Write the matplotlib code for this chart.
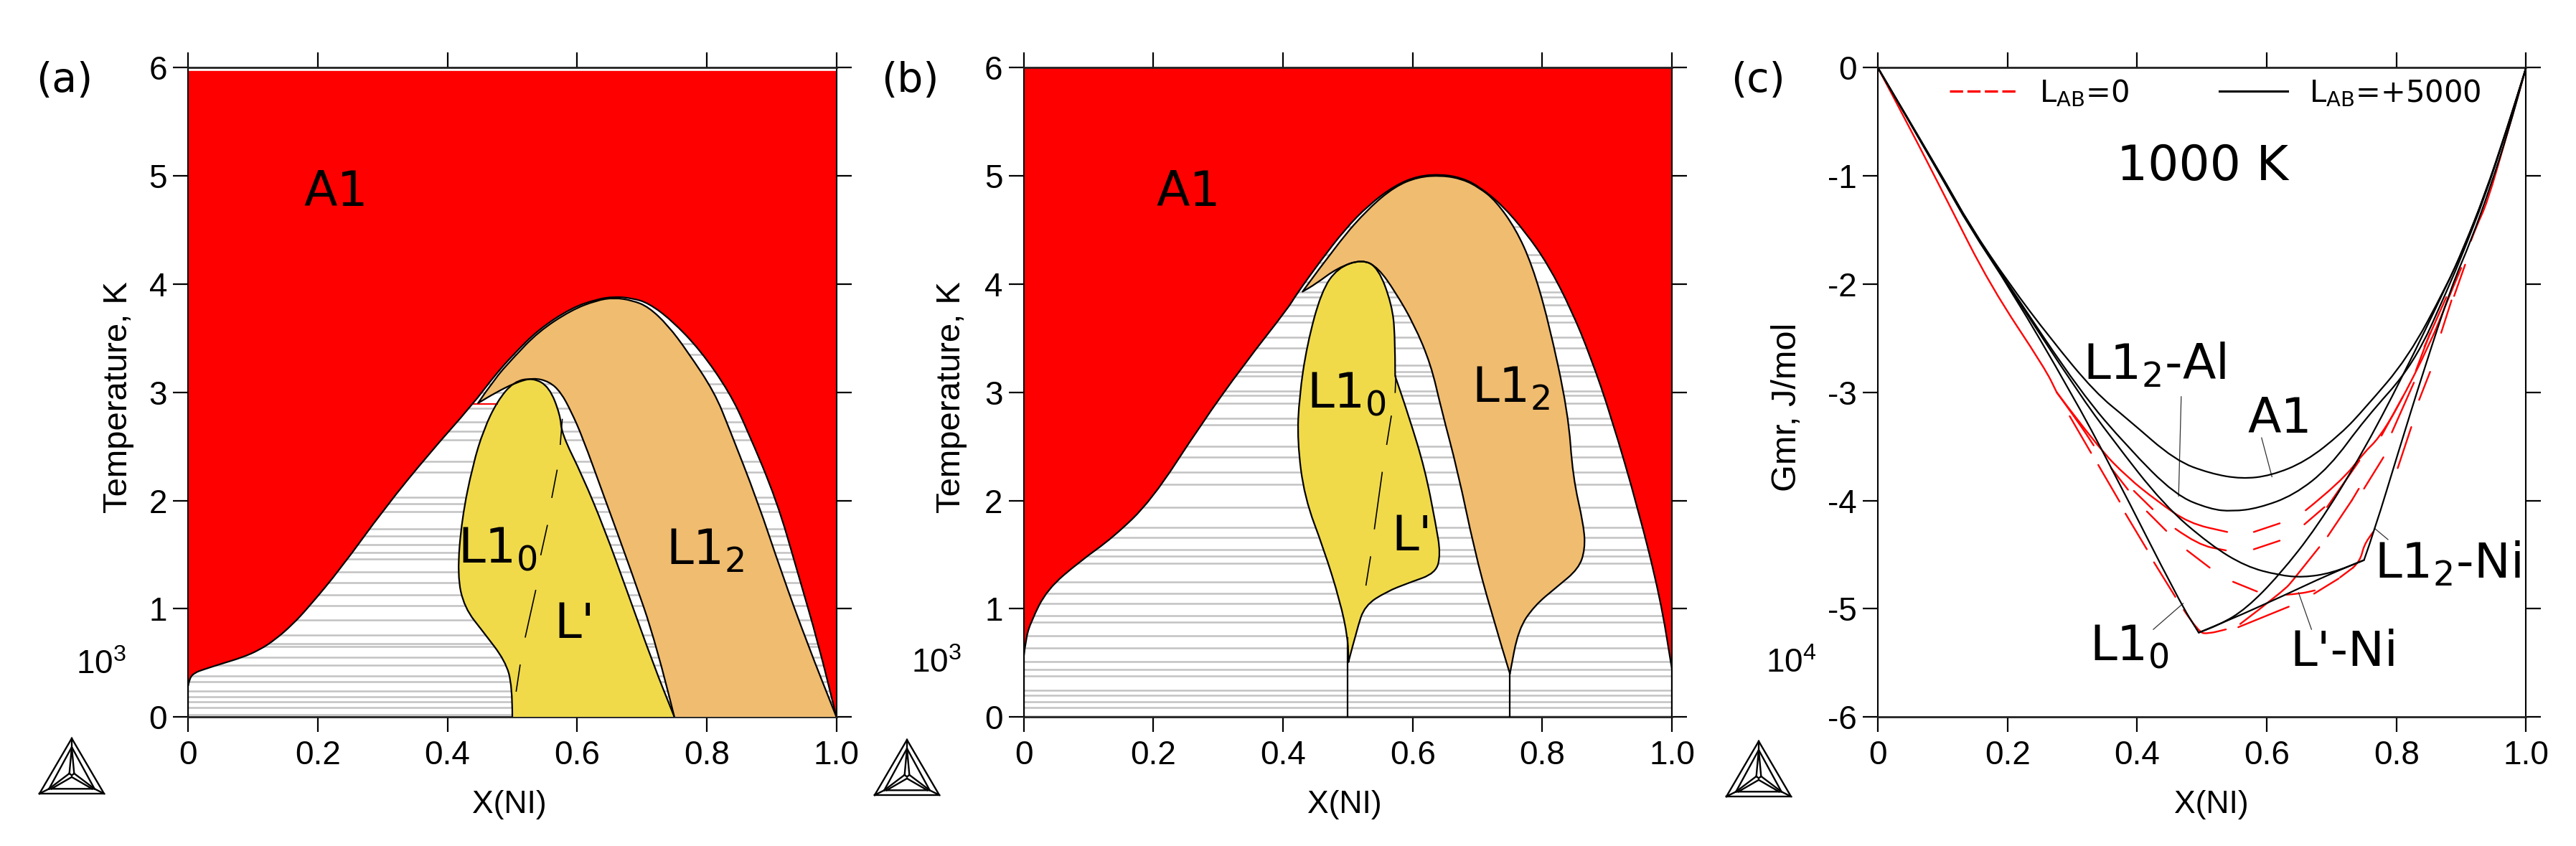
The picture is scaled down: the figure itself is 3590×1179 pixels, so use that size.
#!/usr/bin/env python3
# -*- coding: utf-8 -*-
import numpy as np
import matplotlib
matplotlib.use('Agg')
import matplotlib.pyplot as plt
from matplotlib.lines import Line2D
from matplotlib.patches import PathPatch
from matplotlib.path import Path

plt.rcParams['font.family'] = ['DejaVu Sans']
plt.rcParams['mathtext.default'] = 'regular'

nan = np.nan
W, H = 3590, 1179
TICK = 'Liberation Sans'
RED = '#ff0000'
ORANGE = '#f0bc6f'
YELLOW = '#f0da4a'
GRAY = '#c2c2c2'

x_ticks = [0, 0.2, 0.4, 0.6, 0.8, 1.0]
x_tick_labels = ['0', '0.2', '0.4', '0.6', '0.8', '1.0']
t_ticks = [0, 1, 2, 3, 4, 5, 6]
t_tick_labels = ['0', '1', '2', '3', '4', '5', '6']
g_ticks = [0, -1, -2, -3, -4, -5, -6]
g_tick_labels = ['0', '-1', '-2', '-3', '-4', '-5', '-6']

# panel (a)
a_a1_x = [0, .002, .01, .024, .05, .083, .11, .134, .16, .185, .235, .303, .371, .439, .472, .50, .54, .591, .63, .657, .685, .71, .745, .79, .835, .862, .908, .94, .972, 1.0]
a_a1_y = [.29, .36, .41, .44, .49, .55, .62, .715, .85, 1.01, 1.37, 1.93, 2.43, 2.89, 3.15, 3.34, 3.58, 3.78, 3.86, 3.885, 3.87, 3.825, 3.67, 3.39, 3.0, 2.66, 2.0, 1.34, .68, 0]
a_or_x = [.75, .722, .684, .642, .608, .591, .575, .557, .532, .505, .475, .447, .472, .50, .54, .591, .63, .657, .685, .71, .74, .77, .812, .835, .878, .915, .955, 1.0]
a_or_y = [0, .68, 1.34, 2.03, 2.59, 2.82, 3.0, 3.1, 3.135, 3.09, 3.0, 2.9, 3.12, 3.31, 3.56, 3.76, 3.85, 3.875, 3.85, 3.79, 3.62, 3.38, 3.0, 2.66, 2.0, 1.34, .68, 0]
a_ye_x = [.5, .5, .489, .456, .426, .415, .422, .439, .456, .477, .502, .532, .557, .574, .576, .608, .642, .676, .718, .75]
a_ye_y = [0, .29, .52, .78, 1.01, 1.31, 1.83, 2.33, 2.66, 2.92, 3.10, 3.135, 3.05, 2.79, 2.62, 2.23, 1.74, 1.18, .48, 0]
a_dash_x = [.506, .512, nan, .52, .536, nan, .544, .554, nan, .561, .569, nan, .574, .577]
a_dash_y = [.24, .48, nan, .74, 1.17, nan, 1.50, 1.77, nan, 2.03, 2.28, nan, 2.52, 2.75]
a_red_tie_x = [.44, .477]
a_red_tie_y = [2.89, 2.89]
a_ties = [.02, .09, .14, .19, .24, .33, .38, .48, .55, .65, .68, .76, .9, 1.03, 1.13, 1.24, 1.34, 1.46, 1.52, 1.59, 1.67, 1.74, 1.9, 1.97, 2.03, 2.26, 2.36, 2.56, 2.64, 2.73, 2.85, 3.0, 3.08, 3.2, 3.35, 3.45]

# panel (b)
b_a1_x = [0, .003, .011, .036, .087, .138, .197, .273, .34, .408, .42, .456, .496, .532, .572, .608, .645, .677, .703, .738, .774, .809, .845, .875, .906, .948, .982, 1.0]
b_a1_y = [.55, .72, .88, 1.18, 1.44, 1.66, 2.0, 2.7, 3.26, 3.78, 3.90, 4.2, 4.51, 4.73, 4.91, 5.0, 5.015, 4.98, 4.90, 4.73, 4.48, 4.18, 3.76, 3.32, 2.78, 1.92, 1.1, .44]
b_or_x = [.75, .72, .695, .67, .644, .628, .602, .573, .547, .522, .484, .45, .43, .486, .532, .572, .608, .645, .677, .703, .728, .759, .784, .809, .84, .847, .864, .866, .856, .822, .788, .763, .75]
b_or_y = [.40, .99, 1.55, 2.26, 2.85, 3.26, 3.63, 3.93, 4.15, 4.23, 4.15, 4.0, 3.93, 4.39, 4.70, 4.90, 4.99, 5.005, 4.97, 4.89, 4.77, 4.51, 4.18, 3.67, 2.81, 2.22, 1.77, 1.55, 1.37, 1.2, 1.03, .81, .40]
b_ye_x = [.501, .514, .526, .56, .594, .636, .643, .636, .619, .594, .573, .573, .568, .547, .522, .484, .459, .437, .425, .422, .433, .463, .488, .5, .501]
b_ye_y = [.51, .81, 1.03, 1.16, 1.24, 1.33, 1.51, 1.77, 2.29, 2.78, 3.15, 3.52, 3.81, 4.15, 4.23, 4.15, 3.93, 3.44, 2.96, 2.55, 2.03, 1.55, 1.07, .73, .51]
b_dash_x = [.528, .535, nan, .541, .553, nan, .56, .567, nan, .573, .574]
b_dash_y = [1.22, 1.48, nan, 1.74, 2.26, nan, 2.52, 2.78, nan, 3.0, 3.15]
b_wall_x = [.5, .5, nan, .75, .75, nan, 0, 0, nan, 1.0, 1.0]
b_wall_y = [0, .73, nan, 0, .40, nan, 0, .55, nan, 0, .44]
b_ties = [.01, .09, .14, .2, .25, .38, .44, .51, .64, .75, .88, .94, 1.05, 1.14, 1.25, 1.42, 1.49, 1.55, 1.66, 1.75, 1.94, 2.15, 2.26, 2.4, 2.5, 2.7, 2.76, 2.9, 2.97, 3.01, 3.15, 3.19, 3.25, 3.41, 3.51, 3.65, 3.71, 3.81, 3.88, 3.93, 4.02, 4.2, 4.27, 4.53]

# panel (c), black
c_a1_x = [0, .099, .141, .203, .266, .335, .386, .459, .513, .561, .606, .66, .715, .751, .818, .877, .902, .936, .969, 1]
c_a1_y = [0, -1.0, -1.45, -2.0, -2.5, -3.0, -3.25, -3.63, -3.75, -3.80, -3.77, -3.64, -3.38, -3.15, -2.68, -2.02, -1.69, -1.18, -.59, 0]
c_l12al_x = [0, .099, .141, .203, .313, .386, .459, .513, .547, .587, .642, .697, .751, .827, .881, .902, .936, .969, 1]
c_l12al_y = [0, -1.0, -1.45, -2.02, -3.0, -3.51, -3.95, -4.08, -4.10, -4.07, -3.95, -3.69, -3.25, -2.74, -2.02, -1.72, -1.2, -.6, 0]
c_l12ni_x = [0, .099, .141, .203, .309, .36, .441, .513, .568, .619, .656, .70, .75, .767, .802, .843, .885, .915, .945, .972, 1]
c_l12ni_y = [0, -1.01, -1.46, -2.03, -3.0, -3.42, -4.04, -4.41, -4.61, -4.69, -4.71, -4.67, -4.55, -4.26, -3.57, -2.78, -2.02, -1.6, -1.1, -.6, 0]
c_l10_x = [0, .099, .141, .205, .298, .36, .466, .495, .527, .568, .619, .678, .744, .81, .877, .905, .938, .97, 1]
c_l10_y = [0, -1.02, -1.47, -2.05, -3.0, -3.69, -4.94, -5.22, -5.15, -5.0, -4.69, -4.24, -3.6, -2.85, -2.02, -1.65, -1.15, -.58, 0]
c_lni_x = [.495, .54, .629, .693, .75]
c_lni_y = [-5.22, -5.11, -4.87, -4.69, -4.55]

# panel (c), red, gaps as nan
r_trunk_x = [0, .048, .107, .174, .258, .276, nan, .296, .329, nan, .34, .373, nan, .382, .415, nan, .426, .459, nan, .472, .495, .51, .537, nan, .556, .634]
r_trunk_y = [0, -.54, -1.23, -2.02, -2.78, -3.0, nan, -3.22, -3.56, nan, -3.67, -4.01, nan, -4.12, -4.45, nan, -4.57, -4.89, nan, -5.01, -5.22, -5.23, -5.19, nan, -5.17, -4.98]
r_l12_x = [.276, .31, .333, nan, .36, .386, nan, .415, .445, nan, .477, .512, nan, .548, .585, nan, .63, .652, .674, nan, .673, .711, nan, .713, .733, nan, .733, .744, .75, .764, nan, .802, .823, nan, .835, .852, nan, .869, .885, nan, .889, .906, nan, .915, .923, .94, .969, 1]
r_l12_y = [-3.0, -3.28, -3.49, nan, -3.70, -3.9, nan, -4.1, -4.28, nan, -4.46, -4.62, nan, -4.75, -4.84, nan, -4.87, -4.86, -4.83, nan, -4.86, -4.72, nan, -4.71, -4.62, nan, -4.62, -4.56, -4.41, -4.29, nan, -3.7, -3.32, nan, -3.07, -2.81, nan, -2.45, -2.15, nan, -2.11, -1.82, nan, -1.6, -1.47, -1.25, -.65, 0]
r_mid_x = [.395, .424, nan, .459, .494, .537, nan, .58, .62, nan, .658, .689, nan, .693, .743, nan, .777, .81, nan, .83, .852]
r_mid_y = [-3.91, -4.08, nan, -4.26, -4.41, -4.46, nan, -4.45, -4.37, nan, -4.22, -4.06, nan, -4.06, -3.63, nan, -3.4, -3.04, nan, -2.8, -2.45]
r_a1_x = [.276, .34, .386, .43, .48, .539, nan, .58, .62, nan, .66, .714, .751, .772, .802, .852, .881, .9]
r_a1_y = [-3.0, -3.51, -3.79, -4.0, -4.21, -4.29, nan, -4.29, -4.21, nan, -4.09, -3.83, -3.55, -3.43, -3.14, -2.55, -2.12, -1.85]
r_lp_x = [.559, .627, .641, nan, .641, .681, nan, .694, .731, nan, .731, .742, nan, .75, .78, nan, .793, .827, nan, .843, .877]
r_lp_y = [-5.14, -4.83, -4.73, nan, -4.73, -4.43, nan, -4.33, -4.0, nan, -4.0, -3.89, nan, -3.89, -3.6, nan, -3.37, -2.91, nan, -2.58, -2.12]

# leader lines of panel (c): x0, x1, y0, y1
lead_al = [.468, .464, -3.04, -3.96]
lead_a1 = [.592, .608, -3.42, -3.78]
lead_ni = [.767, .787, -4.26, -4.36]
lead_l10 = [.425, .471, -5.19, -4.95]
lead_lni = [.649, .669, -4.85, -5.19]

# Thermo-Calc logo in its own box, 0-1 on both sides
logo_segs = [
    [(0, 0), (.5, 1), (1, 0), (0, 0)],
    [(.148, .087), (.5, .842), (.852, .087), (.148, .087)],
    [(0, 0), (.148, .087)], [(1, 0), (.852, .087)], [(.5, 1), (.5, .842)],
    [(.463, .365), (.5, .842), (.537, .365), (.5, .33), (.463, .365)],
    [(.148, .087), (.463, .365)], [(.185, .087), (.5, .30)],
    [(.852, .087), (.537, .365)], [(.815, .087), (.5, .30)],
]


def smooth(xs, ys, corners=(), close=False):
    # read points are the control points of a quadratic curve, corners stay sharp
    p = np.column_stack([xs, ys])
    n = len(p)
    verts = [p[0]]
    codes = [Path.MOVETO]
    for i in range(1, n - 1):
        if i in corners:
            verts.append(p[i])
            codes.append(Path.LINETO)
        else:
            verts += [p[i], (p[i] + p[i + 1]) / 2]
            codes += [Path.CURVE3, Path.CURVE3]
    verts.append(p[-1])
    codes.append(Path.LINETO)
    if close:
        verts.append(p[0])
        codes.append(Path.CLOSEPOLY)
    return Path(np.array(verts), codes)


def pieces(xs, ys):
    # split a list with nan gaps into its drawn stretches
    xs = np.array(xs, float)
    ys = np.array(ys, float)
    idx = np.where(np.isnan(xs))[0]
    return zip(np.split(xs, idx), np.split(ys, idx))


def curve(ax, xs, ys, color='k', lw=1.6, corners=(), z=5):
    for px, py in pieces(xs, ys):
        keep = ~np.isnan(px)
        ax.add_patch(PathPatch(smooth(px[keep], py[keep], corners), fill=False, ec=color, lw=lw,
                               zorder=z, capstyle='round', joinstyle='round'))


def region(ax, xs, ys, color, corners=(), z=3):
    ax.add_patch(PathPatch(smooth(xs, ys, corners, close=True), fc=color, ec='none', lw=0, zorder=z))


def frame(ax, yticks, ylabels, ylim):
    ax.set_xlim(0, 1)
    ax.set_ylim(*ylim)
    ax.set_xticks(x_ticks, x_tick_labels)
    ax.set_yticks(yticks, ylabels)
    ax.tick_params(axis='x', which='major', direction='out', length=15, width=1.6, pad=8,
                   top=True, bottom=True, labelsize=33)
    ax.tick_params(axis='y', which='major', direction='out', length=15, width=1.6, pad=6,
                   left=True, right=True, labelsize=33)
    for lab in ax.get_xticklabels() + ax.get_yticklabels():
        lab.set_family(TICK)
    for s in ['left', 'right']:
        ax.spines[s].set_linewidth(1.5)
    for s in ['top', 'bottom']:
        ax.spines[s].set_linewidth(2.0)
        ax.spines[s].set_color('#222222')


def make_axes(left):
    return fig.add_axes([left / W, 1 - 999.3 / H, 903.4 / W, 905 / H])


def logo(left, bottom):
    a = fig.add_axes([left / W, 1 - bottom / H, 90 / W, 77 / H])
    a.set_xlim(0, 1)
    a.set_ylim(0, 1)
    a.axis('off')
    for s in logo_segs:
        xs, ys = zip(*s)
        a.plot(xs, ys, color='k', lw=1.7, clip_on=False, solid_joinstyle='miter')


def phase_label(ax, x, y, s):
    ax.text(x, y, s, fontsize=49, va='baseline', ha='left', color='k', zorder=6)


def labels(ax, xlab_x, ylab, ylab_x, ylab_y, size, power, pow_y):
    ax.text(xlab_x, -.112, 'X(NI)', transform=ax.transAxes, family=TICK, fontsize=32, ha='center', va='top')
    ax.text(ylab_x, ylab_y, ylab, transform=ax.transAxes, family=TICK, fontsize=size, rotation=90, ha='center', va='center')
    ax.text(-.173, pow_y, power, family=TICK, fontsize=33, ha='left', va='baseline')


fig = plt.figure(figsize=(W / 100, H / 100), dpi=100, facecolor='white')

# (a)
ax = make_axes(262.3)
ax.hlines(a_ties, 0, 1, color=GRAY, lw=1.8, zorder=1)
n = len(a_a1_x)
region(ax, a_a1_x + [1, 0], a_a1_y + [5.97, 5.97], RED, corners=(n - 1, n), z=2)
region(ax, a_or_x, a_or_y, ORANGE, corners=(11,))
region(ax, a_ye_x, a_ye_y, YELLOW)
curve(ax, a_a1_x, a_a1_y)
curve(ax, a_or_x, a_or_y, corners=(11,))
curve(ax, a_ye_x, a_ye_y)
ax.plot([0, 0], [0, .29], color='k', lw=1.6, zorder=5)
ax.plot(a_dash_x, a_dash_y, color='k', lw=1.2, zorder=5)
ax.plot(a_red_tie_x, a_red_tie_y, color=RED, lw=1.5, zorder=4)
frame(ax, t_ticks, t_tick_labels, (0, 6))
labels(ax, .495, 'Temperature, K', -.108, .492, 34, '10$^3$', .40)
phase_label(ax, .178, 4.72, 'A1')
phase_label(ax, .416, 1.425, 'L1$_0$')
phase_label(ax, .565, .73, "L'")
phase_label(ax, .737, 1.405, 'L1$_2$')
fig.text(50 / W, 1 - 128 / H, '(a)', fontsize=41, ha='left', va='baseline')
logo(55, 1106)

# (b)
ax = make_axes(1426.7)
ax.hlines(b_ties, 0, 1, color=GRAY, lw=1.8, zorder=1)
n = len(b_a1_x)
region(ax, b_a1_x + [1, 0], b_a1_y + [6, 6], RED, corners=(n - 1, n), z=2)
region(ax, b_or_x, b_or_y, ORANGE, corners=(12,))
region(ax, b_ye_x, b_ye_y, YELLOW, corners=(10,))
curve(ax, b_a1_x, b_a1_y)
curve(ax, b_or_x, b_or_y, corners=(12,))
curve(ax, b_ye_x, b_ye_y, corners=(10,))
ax.plot(b_wall_x, b_wall_y, color='k', lw=1.6, zorder=5)
ax.plot(b_dash_x, b_dash_y, color='k', lw=1.2, zorder=5)
frame(ax, t_ticks, t_tick_labels, (0, 6))
labels(ax, .4945, 'Temperature, K', -.111, .492, 34, '10$^3$', .41)
phase_label(ax, .205, 4.72, 'A1')
phase_label(ax, .437, 2.86, 'L1$_0$')
phase_label(ax, .568, 1.537, "L'")
phase_label(ax, .691, 2.905, 'L1$_2$')
fig.text(1228 / W, 1 - 128 / H, '(b)', fontsize=41, ha='left', va='baseline')
logo(1219, 1108)

# (c)
ax = make_axes(2617)
for xs, ys in [(r_trunk_x, r_trunk_y), (r_l12_x, r_l12_y), (r_mid_x, r_mid_y), (r_a1_x, r_a1_y), (r_lp_x, r_lp_y)]:
    curve(ax, xs, ys, color=RED, lw=1.7, z=2)
curve(ax, c_a1_x, c_a1_y)
curve(ax, c_l12al_x, c_l12al_y)
curve(ax, c_l12ni_x, c_l12ni_y, corners=(12,))
curve(ax, c_l10_x, c_l10_y, corners=(7,))
curve(ax, c_lni_x, c_lni_y)
for ld in [lead_al, lead_a1, lead_ni, lead_l10, lead_lni]:
    ax.plot(ld[:2], ld[2:], color='#333333', lw=0.9, zorder=4)
frame(ax, g_ticks, g_tick_labels, (-6, 0))
labels(ax, .514, 'Gmr, J/mol', -.14, .477, 35, '10$^4$', -5.59)
phase_label(ax, .317, -2.88, 'L1$_2$-Al')
phase_label(ax, .571, -3.375, 'A1')
phase_label(ax, .766, -4.72, 'L1$_2$-Ni')
phase_label(ax, .327, -5.48, 'L1$_0$')
phase_label(ax, .636, -5.53, "L'-Ni")
phase_label(ax, .369, -1.04, '1000 K')
fig.text(2412 / W, 1 - 128 / H, '(c)', fontsize=41, ha='left', va='baseline')
logo(2406, 1110)
handles = [Line2D([], [], color=RED, lw=2.4, ls=(0, (5.5, 1.8, 5.5, 1.8))),
           Line2D([], [], color='k', lw=2.2)]
ax.legend(handles, ['L$_{AB}$=0', 'L$_{AB}$=+5000'], ncol=2, loc='center left', bbox_to_anchor=(.111, .961),
          frameon=False, fontsize=30, borderpad=0, borderaxespad=0, handlelength=2.3,
          handletextpad=.7, columnspacing=3.0)

fig.savefig('out.png', dpi=100)
